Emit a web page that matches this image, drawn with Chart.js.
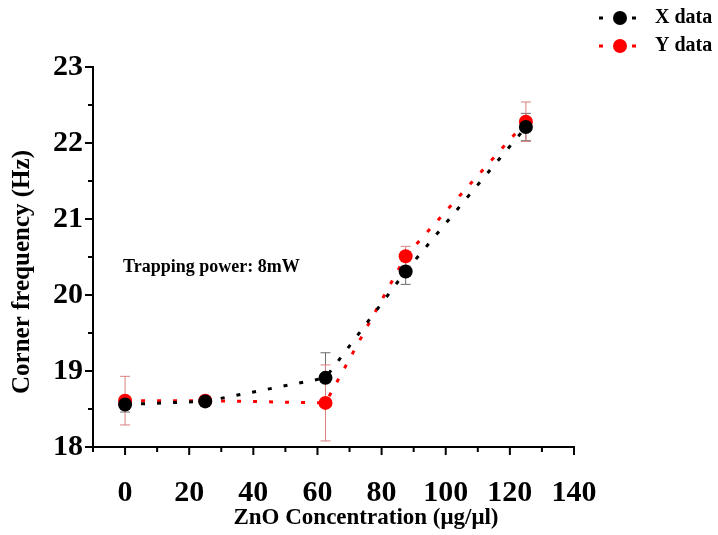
<!DOCTYPE html>
<html>
<head>
<meta charset="utf-8">
<script src="https://cdn.jsdelivr.net/npm/chart.js@4"></script>
<style>
  html, body { margin: 0; padding: 0; background: #fff; }
  #wrap { width: 718px; height: 535px; }
</style>
</head>
<body>
<div id="wrap"><canvas id="chart-corner" width="718" height="535"></canvas></div>
<script>
'use strict';
// concentrations (µg/µl)
let concentrations = [0, 25, 62.5, 87.5, 125];
// corner frequency, X and Y directions (Hz)
let xData = [18.56, 18.60, 18.91, 20.31, 22.21];
let yData = [18.61, 18.61, 18.58, 20.51, 22.28];
let xErr = [0.10, 0.05, 0.33, 0.17, 0.18];
let yErr = [0.32, 0.05, 0.50, 0.13, 0.26];
let xTickLabels = [0, 20, 40, 60, 80, 100, 120, 140];
let yTickLabels = [18, 19, 20, 21, 22, 23];

const SERIF = '"Liberation Serif", "Times New Roman", serif';

function Points(values){
    return concentrations.map((c, i) => ({x: c, y: values[i]}));
}

// draws error bars, minor/major ticks, titles, legend and annotation
let extrasPlugin = {
    id: 'extras',
    beforeDatasetsDraw(chart){
        let ctx = chart.ctx;
        let sx = chart.scales.x, sy = chart.scales.y;
        let bars = [{vals: xData, err: xErr, color: '#6b6b6b'}, {vals: yData, err: yErr, color: '#d98080'}];
        ctx.save();
        ctx.lineWidth = 1;
        bars.forEach(b => {
            ctx.strokeStyle = b.color;
            concentrations.forEach((c, i) => {
                let px = sx.getPixelForValue(c);
                let top = sy.getPixelForValue(b.vals[i] + b.err[i]);
                let bot = sy.getPixelForValue(b.vals[i] - b.err[i]);
                ctx.beginPath();
                ctx.moveTo(px, top); ctx.lineTo(px, bot);
                ctx.moveTo(px - 5, top); ctx.lineTo(px + 5, top);
                ctx.moveTo(px - 5, bot); ctx.lineTo(px + 5, bot);
                ctx.stroke();
            });
        });
        ctx.restore();
    },
    afterDraw(chart){
        let ctx = chart.ctx;
        let sx = chart.scales.x, sy = chart.scales.y;
        let area = chart.chartArea;
        ctx.save();
        ctx.strokeStyle = '#000';
        ctx.lineWidth = 2;
        ctx.beginPath();
        for (let v = -10; v <= 140; v += 10) {
            let px = sx.getPixelForValue(v);
            let len = (v % 20 === 0) ? 8 : 5;
            ctx.moveTo(px, area.bottom); ctx.lineTo(px, area.bottom + len);
        }
        for (let v = 18; v <= 23; v += 0.5) {
            let py = sy.getPixelForValue(v);
            let len = (v % 1 === 0) ? 8 : 5;
            ctx.moveTo(area.left, py); ctx.lineTo(area.left - len, py);
        }
        ctx.stroke();

        ctx.fillStyle = '#000';
        ctx.textAlign = 'center';
        ctx.textBaseline = 'middle';
        ctx.font = 'bold 23px ' + SERIF;
        ctx.fillText('ZnO Concentration (\u03bcg/\u03bcl)', 366, 518);
        ctx.save();
        ctx.translate(23, 272);
        ctx.rotate(-Math.PI / 2);
        ctx.font = 'bold 25px ' + SERIF;
        ctx.fillText('Corner frequency (Hz)', 0, 0);
        ctx.restore();

        ctx.textAlign = 'left';
        ctx.font = 'bold 18px ' + SERIF;
        ctx.fillText('Trapping power: 8mW', 123, 267);

        // legend
        let legend = [{label: 'X data', color: '#000', y: 18}, {label: 'Y data', color: '#ff0000', y: 46}];
        legend.forEach(l => {
            ctx.fillStyle = l.color;
            ctx.fillRect(599, l.y - 1.5, 4, 3);
            ctx.fillRect(632, l.y - 1.5, 4, 3);
            ctx.beginPath();
            ctx.arc(620, l.y, 7, 0, Math.PI * 2);
            ctx.fill();
            ctx.fillStyle = '#000';
            ctx.font = 'bold 20px ' + SERIF;
            ctx.fillText(l.label, 655, l.y);
        });
        ctx.restore();
    }
};

let ctx = document.getElementById('chart-corner').getContext('2d');
let chartCorner = new Chart(ctx, {
    type: 'scatter',
    data: {
        datasets: [{
            label: 'X data',
            data: Points(xData),
            showLine: true,
            borderColor: '#000',
            backgroundColor: '#000',
            borderWidth: 3,
            borderDash: [4, 12],
            pointRadius: 7,
            pointBorderWidth: 0
        }, {
            label: 'Y data',
            data: Points(yData),
            showLine: true,
            borderColor: '#ff0000',
            backgroundColor: '#ff0000',
            borderWidth: 3,
            borderDash: [4, 12],
            pointRadius: 7,
            pointBorderWidth: 0
        }]
    },
    options: {
        responsive: false,
        animation: false,
        layout: {padding: {top: 67, right: 144, left: 0, bottom: 0}},
        plugins: {legend: {display: false}, tooltip: {enabled: false}},
        scales: {
            x: {
                type: 'linear', min: -10, max: 140,
                afterBuildTicks: s => { s.ticks = xTickLabels.map(v => ({value: v})); },
                afterFit: s => { s.height = 88; },
                grid: {drawOnChartArea: false, drawTicks: false},
                border: {color: '#000', width: 2},
                ticks: {color: '#000', padding: 28, maxRotation: 0, font: {family: SERIF, size: 30, weight: 'bold'}}
            },
            y: {
                type: 'linear', min: 18, max: 23,
                afterBuildTicks: s => { s.ticks = yTickLabels.map(v => ({value: v})); },
                afterFit: s => { s.width = 93; },
                grid: {drawOnChartArea: false, drawTicks: false},
                border: {color: '#000', width: 2},
                ticks: {color: '#000', padding: 10, font: {family: SERIF, size: 30, weight: 'bold'}}
            }
        }
    },
    plugins: [extrasPlugin]
});
</script>
</body>
</html>
